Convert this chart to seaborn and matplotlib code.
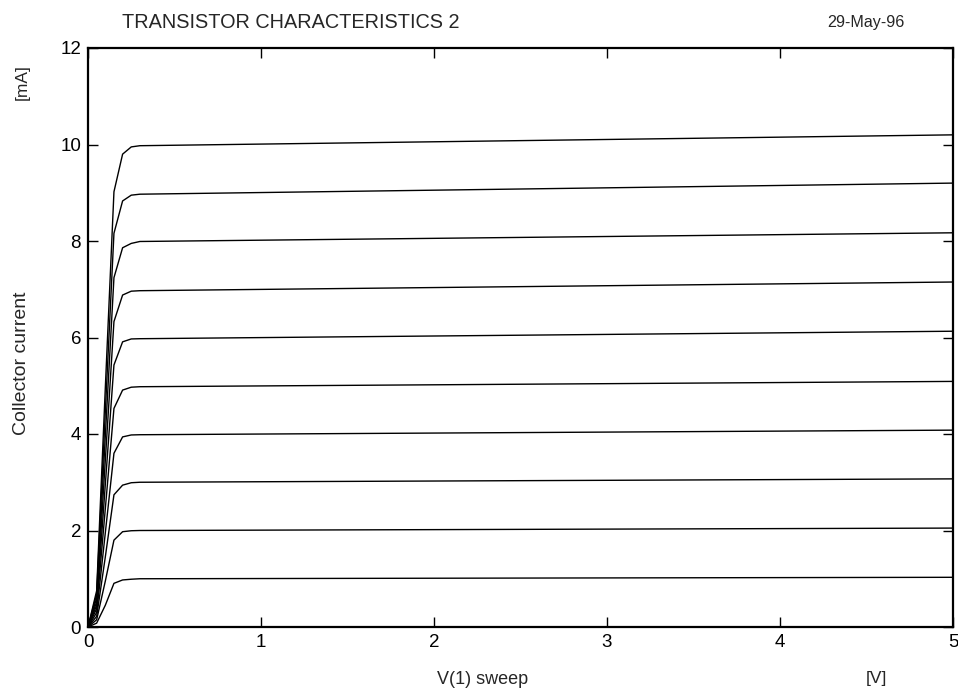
import matplotlib
matplotlib.use("Agg")
import matplotlib.pyplot as plt
import seaborn as sns
import pandas as pd

sns.set_style("ticks")
plt.rcParams['font.family'] = ['Liberation Sans', 'DejaVu Sans']

# Sweep voltage points [V]
v_sweep = [0.0, 0.05, 0.10, 0.15, 0.20, 0.25, 0.30, 5.0]

# Collector current curves [mA], one per base-current step
ic_1 = [0.0, 0.08, 0.45, 0.905, 0.975, 0.99, 1.00, 1.03]
ic_2 = [0.0, 0.15, 0.95, 1.80, 1.975, 1.995, 2.00, 2.05]
ic_3 = [0.0, 0.22, 1.45, 2.74, 2.94, 2.99, 3.00, 3.07]
ic_4 = [0.0, 0.30, 1.95, 3.60, 3.94, 3.98, 3.985, 4.08]
ic_5 = [0.0, 0.38, 2.45, 4.53, 4.91, 4.97, 4.98, 5.09]
ic_6 = [0.0, 0.45, 2.95, 5.43, 5.91, 5.97, 5.975, 6.13]
ic_7 = [0.0, 0.52, 3.45, 6.33, 6.88, 6.96, 6.97, 7.15]
ic_8 = [0.0, 0.60, 3.95, 7.24, 7.86, 7.95, 7.99, 8.17]
ic_9 = [0.0, 0.68, 4.45, 8.16, 8.83, 8.95, 8.97, 9.20]
ic_10 = [0.0, 0.75, 4.95, 9.02, 9.80, 9.95, 9.975, 10.20]

curves = [ic_1, ic_2, ic_3, ic_4, ic_5, ic_6, ic_7, ic_8, ic_9, ic_10]

x_ticks = [0, 1, 2, 3, 4, 5]
y_ticks = [0, 2, 4, 6, 8, 10, 12]

title_text = "TRANSISTOR CHARACTERISTICS 2"
date_text = "29-May-96"
x_label = "V(1) sweep"
x_unit = "[V]"
y_label = "Collector current"
y_unit = "[mA]"

rows = []
for i, c in enumerate(curves):
    for v, ic in zip(v_sweep, c):
        rows.append({"V": v, "I": ic, "curve": i})
df = pd.DataFrame(rows)

fig = plt.figure(figsize=(9.58, 6.98), dpi=100)
ax = fig.add_axes([88/958, 1-627/698, (953-88)/958, (627-48)/698])

sns.lineplot(data=df, x="V", y="I", hue="curve",
             palette=["black"]*len(curves), legend=False, ax=ax,
             linewidth=1.0, estimator=None, sort=False)

ax.set_xlim(0, 5)
ax.set_ylim(0, 12)
ax.set_xticks(x_ticks)
ax.set_yticks(y_ticks)
ax.set_xticklabels([str(t) for t in x_ticks])
ax.set_yticklabels([str(t) for t in y_ticks])
ax.tick_params(direction="in", length=7, width=1, top=True, right=True,
               labelsize=13.5, colors="black", pad=5)
for s in ax.spines.values():
    s.set_linewidth(1.6)
    s.set_color("black")
ax.set_xlabel("")
ax.set_ylabel("")

fig.text(122/958, 1-22/698, title_text, ha="left", va="center", fontsize=14.3)
fig.text(905/958, 1-22/698, date_text, ha="right", va="center", fontsize=11.6)
fig.text(483/958, 1-680/698, x_label, ha="center", va="center", fontsize=13)
fig.text(876/958, 1-678/698, x_unit, ha="center", va="center", fontsize=12.5)
fig.text(22/958, 1-363/698, y_label, ha="center", va="center", rotation=90, fontsize=14)
fig.text(22/958, 1-82/698, y_unit, ha="center", va="center", rotation=90, fontsize=12.5)

fig.savefig("out.png", dpi=100, facecolor="white")
